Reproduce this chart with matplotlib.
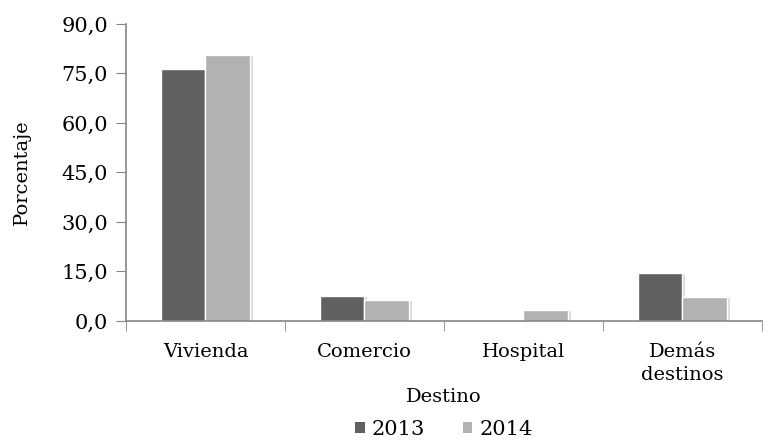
import matplotlib.pyplot as plt
import matplotlib.patheffects as pe
import numpy as np
from matplotlib.ticker import FuncFormatter

categories = ['Vivienda', 'Comercio', 'Hospital', 'Demás\ndestinos']
series_2013 = [76.4, 7.6, 0.0, 14.6]
series_2014 = [80.6, 6.4, 3.3, 7.4]

plt.rcParams['font.family'] = ['DejaVu Serif']

fig = plt.figure(figsize=(7.7, 4.42), dpi=100)
ax = fig.add_axes([0.1636, 0.2738, 0.826, 0.672])

x = np.arange(len(categories))
w = 0.28
shadow = [pe.SimplePatchShadow(offset=(2, -1), shadow_rgbFace='#bbbbbb', alpha=0.5), pe.Normal()]
b1 = ax.bar(x - w / 2, series_2013, w, color='#606060', edgecolor='white', linewidth=1, label='2013')
b2 = ax.bar(x + w / 2, series_2014, w, color='#b2b2b2', edgecolor='white', linewidth=1, label='2014')
for b in list(b1) + list(b2):
    if b.get_height() > 0:
        b.set_path_effects(shadow)

ax.set_xlim(-0.5, len(categories) - 0.5)
ax.set_ylim(0, 90)
ax.set_yticks(np.arange(0, 91, 15))
ax.yaxis.set_major_formatter(FuncFormatter(lambda v, p: f'{v:.1f}'.replace('.', ',')))

ax.set_xticks(x)
ax.set_xticklabels(categories, fontsize=14, linespacing=1.35)
ax.set_xticks(np.arange(-0.5, len(categories), 1), minor=True)
ax.tick_params(axis='x', which='major', length=0, pad=16)
ax.tick_params(axis='x', which='minor', length=7, color='#868686', direction='out')
ax.tick_params(axis='y', length=7, color='#868686', labelsize=15, pad=6)

for s in ['top', 'right']:
    ax.spines[s].set_visible(False)
for s in ['left', 'bottom']:
    ax.spines[s].set_color('#868686')
    ax.spines[s].set_linewidth(1.2)

ax.set_xlabel('Destino', fontsize=14, labelpad=3)
ax.set_ylabel('Porcentaje', fontsize=14, labelpad=22)

leg = ax.legend(loc='center', bbox_to_anchor=(0.5, -0.365), ncol=2, frameon=False,
                fontsize=15, handlelength=0.45, handleheight=0.45, handletextpad=0.35,
                columnspacing=1.8)
for h in leg.legend_handles:
    h.set_path_effects([])
    h.set_edgecolor('none')

fig.savefig('out.png', dpi=100)
